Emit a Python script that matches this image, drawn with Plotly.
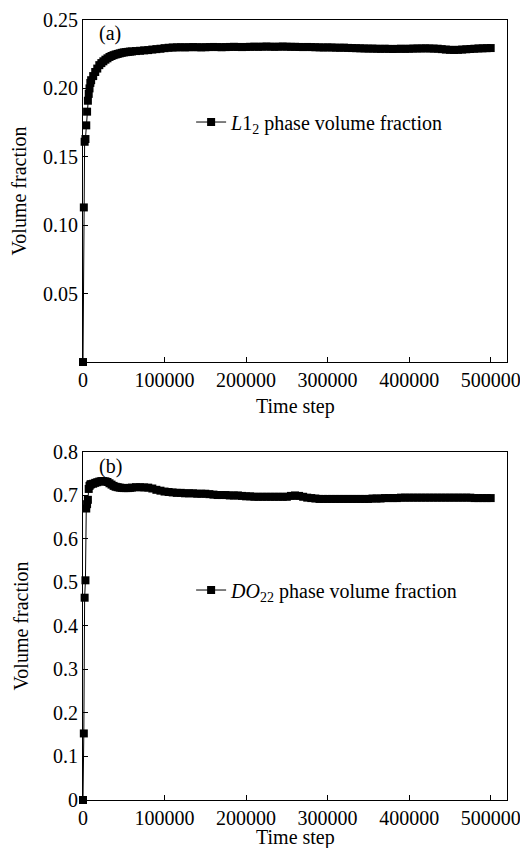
import plotly.graph_objects as go
from plotly.subplots import make_subplots

# Time steps (shared by both panels)
time_step = [0, 1000, 2000, 3000, 4000, 5000, 6000, 7000, 8000, 9000,
             10000, 12500, 15000, 17500, 20000, 22500, 25000, 27500, 30000, 32500,
             35000, 37500, 40000, 42500, 45000, 47500, 50000, 52500, 55000, 57500,
             60000,
             65000, 70000, 75000, 80000, 85000, 90000, 95000, 100000, 105000, 110000,
             115000, 120000, 125000, 130000, 135000, 140000, 145000, 150000, 155000, 160000,
             165000, 170000, 175000, 180000, 185000, 190000, 195000, 200000, 205000, 210000,
             215000, 220000, 225000, 230000, 235000, 240000, 245000, 250000, 255000, 260000,
             265000, 270000, 275000, 280000, 285000, 290000, 295000, 300000, 305000, 310000,
             315000, 320000, 325000, 330000, 335000, 340000, 345000, 350000, 355000, 360000,
             365000, 370000, 375000, 380000, 385000, 390000, 395000, 400000, 405000, 410000,
             415000, 420000, 425000, 430000, 435000, 440000, 445000, 450000, 455000, 460000,
             465000, 470000, 475000, 480000, 485000, 490000, 495000, 500000]

# (a) L1_2 phase volume fraction
l12_fraction = [0.000, 0.113, 0.161, 0.163, 0.173, 0.183, 0.191, 0.196, 0.200, 0.204,
                0.206, 0.209, 0.212, 0.2145, 0.217, 0.2185, 0.2198, 0.221, 0.222, 0.223,
                0.2237, 0.2243, 0.2248, 0.2252, 0.2256, 0.2260, 0.2263, 0.2265, 0.2267, 0.2269,
                0.2270,
                0.2273, 0.2275, 0.2278, 0.2280, 0.2284, 0.2287, 0.2290, 0.2294, 0.2297, 0.2299,
                0.2300, 0.2301, 0.2300, 0.2301, 0.2302, 0.2301, 0.2300, 0.2301, 0.2302, 0.2303,
                0.2302, 0.2301, 0.2302, 0.2303, 0.2304, 0.2303, 0.2302, 0.2303, 0.2304, 0.2305,
                0.2304, 0.2305, 0.2306, 0.2305, 0.2304, 0.2305, 0.2306, 0.2305, 0.2304, 0.2304,
                0.2303, 0.2302, 0.2303, 0.2302, 0.2301, 0.2300, 0.2299, 0.2300, 0.2299, 0.2298,
                0.2297, 0.2298, 0.2296, 0.2295, 0.2294, 0.2293, 0.2292, 0.2291, 0.2291, 0.2290,
                0.2289, 0.2290, 0.2289, 0.2288, 0.2289, 0.2290, 0.2289, 0.2290, 0.2291, 0.2292,
                0.2292, 0.2293, 0.2292, 0.2291, 0.2290, 0.2287, 0.2284, 0.2282, 0.2281, 0.2282,
                0.2284, 0.2286, 0.2288, 0.2290, 0.2292, 0.2293, 0.2294, 0.2295]

# (b) DO22 phase volume fraction
do22_fraction = [0.000, 0.153, 0.465, 0.505, 0.670, 0.680, 0.690, 0.715, 0.722, 0.725,
                 0.726, 0.727, 0.729, 0.7305, 0.732, 0.733, 0.733, 0.7325, 0.731, 0.728,
                 0.725, 0.722, 0.720, 0.719, 0.718, 0.7175, 0.717, 0.717, 0.717, 0.7175,
                 0.718,
                 0.719, 0.719, 0.7185, 0.718, 0.716, 0.713, 0.711, 0.709, 0.708, 0.707,
                 0.706, 0.706, 0.705, 0.705, 0.705, 0.704, 0.704, 0.704, 0.703, 0.702,
                 0.701, 0.701, 0.701, 0.700, 0.700, 0.700, 0.699, 0.698, 0.698, 0.697,
                 0.697, 0.697, 0.697, 0.697, 0.697, 0.697, 0.697, 0.697, 0.699, 0.700,
                 0.699, 0.697, 0.695, 0.694, 0.693, 0.692, 0.692, 0.692, 0.692, 0.692,
                 0.692, 0.692, 0.692, 0.692, 0.692, 0.692, 0.692, 0.692, 0.693, 0.693,
                 0.693, 0.694, 0.694, 0.694, 0.694, 0.695, 0.695, 0.695, 0.695, 0.695,
                 0.695, 0.695, 0.695, 0.695, 0.695, 0.695, 0.695, 0.695, 0.695, 0.695,
                 0.695, 0.695, 0.695, 0.694, 0.694, 0.694, 0.694, 0.694]

x_ticks = [0, 100000, 200000, 300000, 400000, 500000]
x_text = ["0", "100000", "200000", "300000", "400000", "500000"]
ya_ticks = [0.05, 0.10, 0.15, 0.20, 0.25]
ya_text = ["0.05", "0.10", "0.15", "0.20", "0.25"]
yb_ticks = [0, 0.1, 0.2, 0.3, 0.4, 0.5, 0.6, 0.7, 0.8]
yb_text = ["0", "0.1", "0.2", "0.3", "0.4", "0.5", "0.6", "0.7", "0.8"]

FONT = "Liberation Serif"
FSIZE = 20
txt_font = dict(family=FONT, size=FSIZE, color="black")

fig = make_subplots(rows=2, cols=1)

fig.add_trace(go.Scatter(
    x=time_step, y=l12_fraction, mode="lines+markers",
    name="<i>L</i>1<sub>2</sub> phase volume fraction",
    line=dict(color="black", width=1),
    marker=dict(symbol="square", size=8, color="black"),
    cliponaxis=False, legend="legend"), row=1, col=1)

fig.add_trace(go.Scatter(
    x=time_step, y=do22_fraction, mode="lines+markers",
    name="<i>DO</i><sub>22</sub> phase volume fraction",
    line=dict(color="black", width=1),
    marker=dict(symbol="square", size=8, color="black"),
    cliponaxis=False, legend="legend2"), row=2, col=1)

axis_style = dict(showline=True, linecolor="black", linewidth=1, mirror=True,
                  ticks="inside", ticklen=5, tickcolor="black",
                  showgrid=False, zeroline=False, automargin=False,
                  ticklabeloverflow="allow", tickfont=txt_font)

for r in (1, 2):
    fig.update_xaxes(range=[0, 520000], tickvals=x_ticks, ticktext=x_text,
                     row=r, col=1, **axis_style)

fig.update_yaxes(range=[0, 0.25], tickvals=ya_ticks, ticktext=ya_text, domain=[0.5615, 1.0],
                 title=dict(text="Volume fraction", font=txt_font, standoff=18),
                 row=1, col=1, **axis_style)
fig.update_yaxes(range=[0, 0.8], tickvals=yb_ticks, ticktext=yb_text, domain=[0.0, 0.4462],
                 title=dict(text="Volume fraction", font=txt_font, standoff=18),
                 row=2, col=1, **axis_style)

legend_style = dict(font=txt_font, bgcolor="rgba(0,0,0,0)", itemwidth=30,
                    xanchor="left", yanchor="middle")

# the page body adds an 8 px margin, so the figure is 16 px smaller than the window
fig.update_layout(
    width=512, height=840,
    margin=dict(l=75, r=13, t=12, b=48, autoexpand=False),
    paper_bgcolor="white", plot_bgcolor="white",
    showlegend=True,
    legend=dict(x=0.255, y=0.8692, **legend_style),
    legend2=dict(x=0.255, y=0.2692, **legend_style),
    annotations=[
        dict(text="(a)", x=0.0637, y=0.9833, xref="paper", yref="paper",
             xanchor="center", yanchor="middle", showarrow=False, font=txt_font),
        dict(text="(b)", x=0.0637, y=0.4282, xref="paper", yref="paper",
             xanchor="center", yanchor="middle", showarrow=False, font=txt_font),
        dict(text="Time step", x=0.5, y=0.5051, xref="paper", yref="paper",
             xanchor="center", yanchor="middle", showarrow=False, font=txt_font),
        dict(text="Time step", x=0.5, y=-0.0487, xref="paper", yref="paper",
             xanchor="center", yanchor="middle", showarrow=False, font=txt_font),
    ],
)

fig.write_html("out.html")
